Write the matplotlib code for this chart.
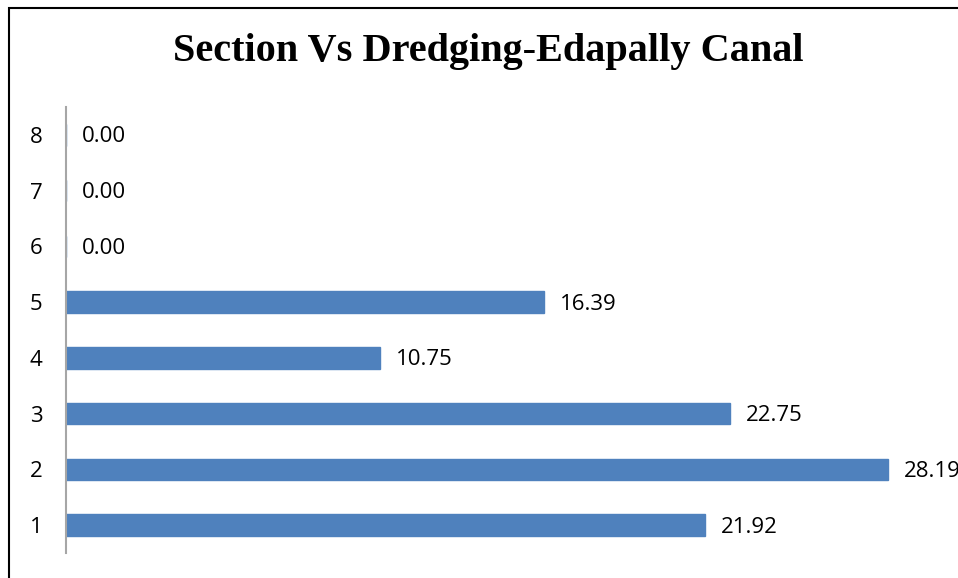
import matplotlib
matplotlib.use("Agg")
import matplotlib.pyplot as plt
from matplotlib.patches import Rectangle

sections = ["1", "2", "3", "4", "5", "6", "7", "8"]
dredging = [21.92, 28.19, 22.75, 10.75, 16.39, 0.00, 0.00, 0.00]
title = "Section Vs Dredging-Edapally Canal"

W, H = 958, 578
fig = plt.figure(figsize=(W / 100, H / 100), dpi=100)
ax = fig.add_axes([66 / W, 1 - 553 / H, (941 - 66) / W, (553 - 107) / H])

pos = list(range(1, len(sections) + 1))
ax.barh(pos, dredging, height=0.39, color="#4F81BD", edgecolor="#4F81BD", zorder=2)
ax.set_xlim(0, 30)
ax.set_ylim(0.5, len(sections) + 0.5)
ax.set_yticks(pos)
ax.set_yticklabels(sections, fontsize=16, fontname="Open Sans")
ax.tick_params(axis="y", length=0, pad=17)
ax.set_xticks([])
for s in ["top", "right", "bottom"]:
    ax.spines[s].set_visible(False)
ax.spines["left"].set_color("#A6A6A6")
ax.spines["left"].set_linewidth(1.5)

for p, v in zip(pos, dredging):
    ax.annotate(f"{v:.2f}", xy=(v, p), xytext=(11.5, -1.5), textcoords="offset points",
                ha="left", va="center", fontsize=16, fontname="Open Sans",
                annotation_clip=False)

fig.text(488 / W, 1 - 52 / H, title, ha="center", va="center",
         fontsize=29, fontweight="bold", fontname="Liberation Serif")

fig.patches.append(Rectangle((9 / W, -0.1), 2.0, 1 - 8 / H + 0.1, transform=fig.transFigure,
                             fill=False, edgecolor="black", linewidth=1.5, figure=fig))

fig.savefig("out.png", dpi=100)
